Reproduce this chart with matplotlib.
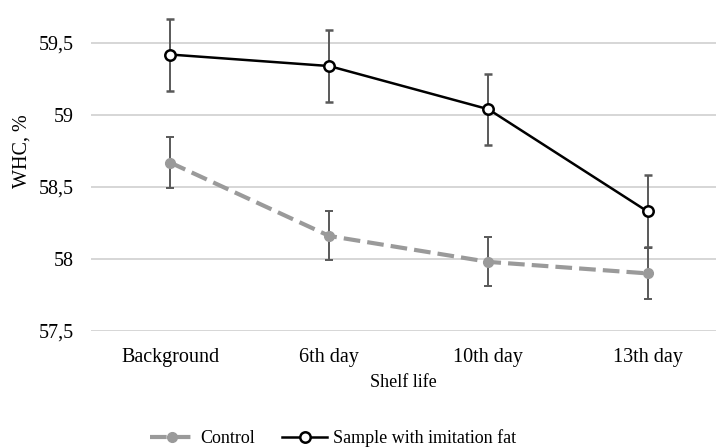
import numpy as np
import matplotlib.pyplot as plt
from matplotlib.lines import Line2D
from matplotlib.ticker import FuncFormatter

# data
categories = ["Background", "6th day", "10th day", "13th day"]
control = [58.67, 58.16, 57.98, 57.90]
control_err = [0.175, 0.17, 0.17, 0.175]
sample = [59.42, 59.34, 59.04, 58.33]
sample_err = [0.25, 0.25, 0.245, 0.25]

plt.rcParams["font.family"] = ["Liberation Serif", "DejaVu Serif"]

fig = plt.figure(figsize=(7.16, 4.47), dpi=100)
# the original chart runs up to 60 and is cropped at the top
ax = fig.add_axes([90.5 / 716, 1 - 331 / 447, 1 - 90.5 / 716, 360 / 447])

x = np.arange(len(categories))

ctrl_style = dict(color="#9a9a9a", linestyle=(0, (4, 1.7)), linewidth=3, marker="o",
                  markersize=7, markerfacecolor="#9a9a9a", markeredgecolor="#9a9a9a")
samp_style = dict(color="black", linestyle="-", linewidth=1.8, marker="o",
                  markersize=7.5, markerfacecolor="white", markeredgecolor="black",
                  markeredgewidth=1.8)

ax.errorbar(x, control, yerr=control_err, ecolor="#595959", elinewidth=1.4,
            capsize=3, capthick=1.4, zorder=3, **ctrl_style)
ax.errorbar(x, sample, yerr=sample_err, ecolor="#595959", elinewidth=1.4,
            capsize=3, capthick=1.4, zorder=4, **samp_style)

ax.set_xlim(-0.5, 3.43)
ax.set_ylim(57.5, 60.0)
ax.set_yticks([57.5, 58.0, 58.5, 59.0, 59.5])
ax.yaxis.set_major_formatter(FuncFormatter(lambda v, p: f"{v:g}".replace(".", ",")))
ax.set_xticks(x)
ax.set_xticklabels(categories)
ax.tick_params(axis="y", length=0, labelsize=14.5, pad=12)
ax.tick_params(axis="x", length=0, labelsize=14.5, pad=12)
ax.grid(axis="y", color="#d0d0d0", linewidth=1.2)
ax.set_axisbelow(True)
for s in ax.spines.values():
    s.set_visible(False)

ax.set_xlabel("Shelf life", fontsize=13, labelpad=5)
ax.set_ylabel("WHC, %", fontsize=14.5, labelpad=5)

handles = [Line2D([], [], **ctrl_style), Line2D([], [], **samp_style)]
fig.legend(handles, ["Control", "Sample with imitation fat"], loc="lower center",
           bbox_to_anchor=(0.465, -0.036), ncol=2, frameon=False, fontsize=13,
           handlelength=2.5, columnspacing=1.5, handletextpad=0.3)

fig.savefig("out.png", dpi=100)
